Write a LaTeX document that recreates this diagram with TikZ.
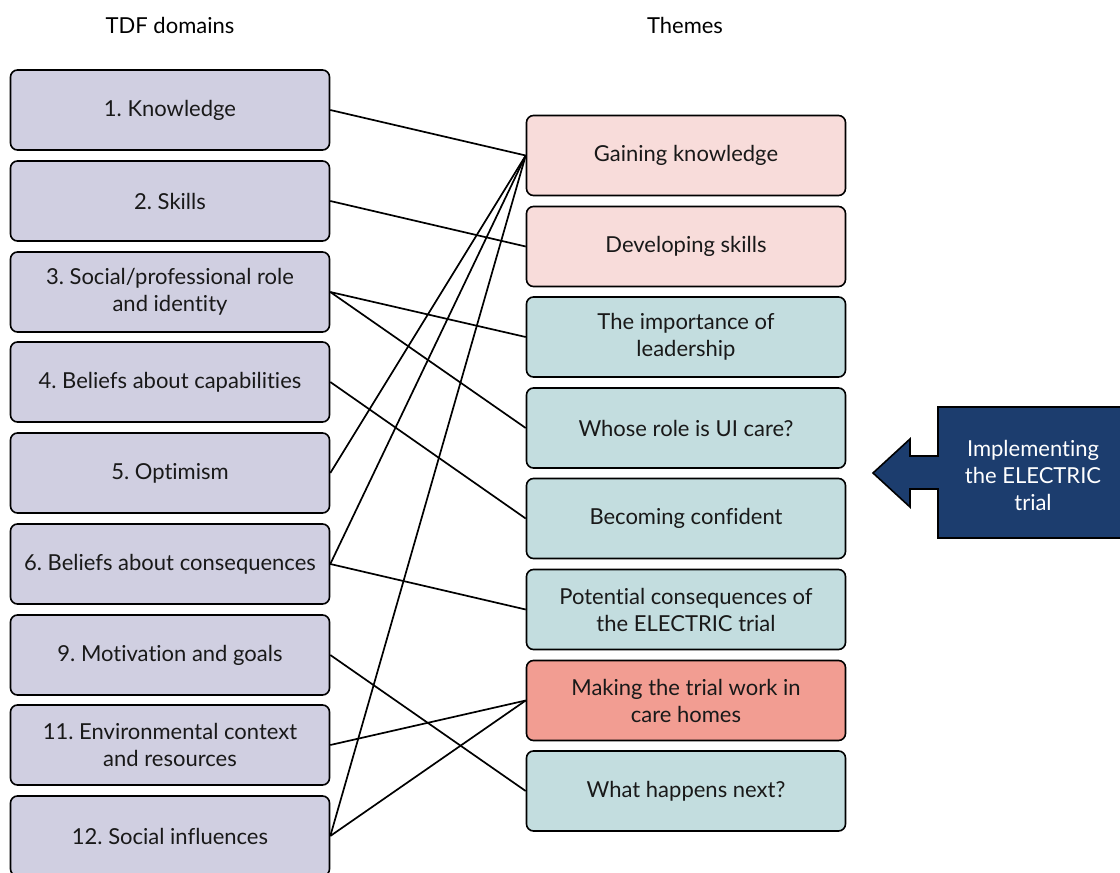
\documentclass[tikz,border=0pt]{standalone}
\usepackage{fontspec}
\setmainfont[Ligatures=NoCommon]{Lato}
\begin{document}
\frenchspacing
\begin{tikzpicture}[x=1pt,y=-1pt,
  box/.style={draw=black,line width=1.6pt,rounded corners=7pt,minimum width=319pt,minimum height=80pt,align=center,inner sep=2pt,font=\fontsize{22}{27}\selectfont,text=black!90},
  dom/.style={box,fill=lav},
  pinkbox/.style={box,fill=pinkl},
  tealbox/.style={box,fill=teall},
  redbox/.style={box,fill=salmon},
  link/.style={line width=1.7pt,draw=black},
  title/.style={font=\fontsize{22}{24}\selectfont}]
\definecolor{lav}{HTML}{D0CFE1}
\definecolor{pinkl}{HTML}{F8DCDA}
\definecolor{teall}{HTML}{C3DDDF}
\definecolor{salmon}{HTML}{F29D92}
\definecolor{navy}{HTML}{1C3D6E}
\useasboundingbox (0,0) rectangle (1120,873);
\node[title] (h1) at (170,25) {TDF domains};
\node[title] (h2) at (685,25) {Themes};
\node[dom] (d1) at (170,110) {1. Knowledge};
\node[dom] (d2) at (170,201) {2. Skills};
\node[dom] (d3) at (170,292) {3. Social/professional role\\and identity};
\node[dom] (d4) at (170,382) {4. Beliefs about capabilities};
\node[dom] (d5) at (170,473) {5. Optimism};
\node[dom] (d6) at (170,564) {6. Beliefs about consequences};
\node[dom] (d9) at (170,655) {9. Motivation and goals};
\node[dom] (d11) at (170,745) {11. Environmental context\\and resources};
\node[dom] (d12) at (170,836) {12. Social influences};
\node[pinkbox] (t1) at (686,155.5) {Gaining knowledge};
\node[pinkbox] (t2) at (686,246.5) {Developing skills};
\node[tealbox] (t3) at (686,337) {The importance of\\leadership};
\node[tealbox] (t4) at (686,428) {Whose role is UI care?};
\node[tealbox] (t5) at (686,518.5) {Becoming confident};
\node[tealbox] (t6) at (686,609.5) {Potential consequences of\\the ELECTRIC trial};
\node[redbox] (t7) at (686,700.5) {Making the trial work in\\care homes};
\node[tealbox] (t8) at (686,791) {What happens next?};
\draw[link] (d1.east) -- (t1.west);
\draw[link] (d2.east) -- (t2.west);
\draw[link] (d3.east) -- (t3.west);
\draw[link] (d3.east) -- (t4.west);
\draw[link] (d4.east) -- (t5.west);
\draw[link] (d5.east) -- (t1.west);
\draw[link] (d6.east) -- (t1.west);
\draw[link] (d6.east) -- (t6.west);
\draw[link] (d9.east) -- (t8.west);
\draw[link] (d11.east) -- (t7.west);
\draw[link] (d12.east) -- (t1.west);
\draw[link] (d12.east) -- (t7.west);
\draw[fill=navy,draw=black,line width=1.6pt] (1128,407) -- (938,407) -- (938,456) -- (910,456) -- (910,439) -- (873,473) -- (910,507) -- (910,489) -- (938,489) -- (938,538) -- (1128,538) -- cycle;
\node[font=\fontsize{22}{27}\selectfont,text=white,align=center] (imp) at (1033,475) {Implementing\\the ELECTRIC\\trial};
\end{tikzpicture}
\end{document}
